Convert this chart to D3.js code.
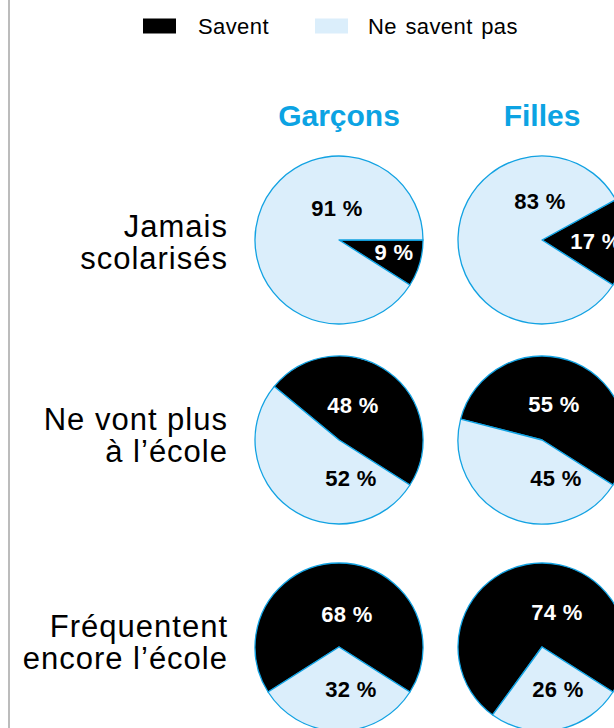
<!DOCTYPE html>
<html>
<head>
    <meta charset="utf-8">
    <title>Savent / Ne savent pas</title>
    <script src="https://d3js.org/d3.v7.min.js"></script>
    <style>
        body {
            margin: 0;
            background: #ffffff;
        }
        svg {
            display: block;
        }
        .row-label {
            font-family: "Liberation Sans", Arial, sans-serif;
            font-size: 31px;
            letter-spacing: 1px;
            fill: #000;
        }
        .group-title {
            font-family: "Liberation Sans", Arial, sans-serif;
            font-size: 30px;
            font-weight: bold;
            fill: #0ca3e3;
        }
        .pct {
            font-family: "Liberation Sans", Arial, sans-serif;
            font-size: 22px;
            font-weight: bold;
            letter-spacing: 0.3px;
        }
        .legend-text {
            font-family: "Liberation Sans", Arial, sans-serif;
            font-size: 22px;
            letter-spacing: 0.4px;
            word-spacing: 2px;
        }
    </style>
</head>
<body>
<div id="chart"></div>
<script>
    // values
    const rowLabels = [
        ["Jamais", "scolarisés"],
        ["Ne vont plus", "à l’école"],
        ["Fréquentent", "encore l’école"]
    ];
    const groups = ["Garçons", "Filles"];
    const legendLabels = ["Savent", "Ne savent pas"];

    const saventGarcons = [9, 48, 68];
    const neSaventGarcons = [91, 52, 32];
    const saventFilles = [17, 55, 74];
    const neSaventFilles = [83, 45, 26];

    const width = 614;
    const height = 728;
    const radius = 84;
    const colors = ["#000000", "#dbeefb"];
    const strokeBlue = "#12a2e2";

    // layout: pie centres per group / row
    const x = d3.scaleOrdinal().domain(groups).range([339, 542]);
    const y = d3.scaleOrdinal().domain([0, 1, 2]).range([240, 440, 647]);
    const labelY = [237, 430, 637];

    // where the percentage labels sit, relative to each pie centre
    // [row][group] -> [[dx, dy] for savent, [dx, dy] for ne savent pas]
    const labelOffsets = [
        [[[55, 20], [-2, -24]], [[54, 9], [-2, -31]]],
        [[[14, -27], [12, 46]], [[12, -28], [14, 46]]],
        [[[8, -25], [12, 50]], [[15, -27], [16, 50]]]
    ];

    // the black slice always ends at the same angle
    const blackEnd = 122.4 * Math.PI / 180;

    const svg = d3.select("#chart")
        .append("svg")
        .attr("width", width)
        .attr("height", height);

    // grey rule on the left
    svg.append("rect")
        .attr("x", 8)
        .attr("y", 0)
        .attr("width", 2)
        .attr("height", height)
        .attr("fill", "#bcbcbc");

    // legend
    const legendX = [143, 315];
    const legendTextX = [198, 368];
    legendLabels.forEach(function (label, i) {
        svg.append("rect")
            .attr("x", legendX[i])
            .attr("y", 18.5)
            .attr("width", 33)
            .attr("height", 15)
            .attr("fill", colors[i]);
        svg.append("text")
            .attr("class", "legend-text")
            .attr("x", legendTextX[i])
            .attr("y", 34)
            .text(label);
    });

    // group titles
    svg.selectAll(".group-title")
        .data(groups)
        .enter()
        .append("text")
        .attr("class", "group-title")
        .attr("x", d => x(d))
        .attr("y", 126)
        .attr("text-anchor", "middle")
        .text(d => d);

    // row labels
    rowLabels.forEach(function (lines, r) {
        const t = svg.append("text")
            .attr("class", "row-label")
            .attr("text-anchor", "end")
            .attr("y", labelY[r]);
        lines.forEach(function (line, k) {
            t.append("tspan")
                .attr("x", 228)
                .attr("dy", k === 0 ? 0 : 32)
                .text(line);
        });
    });

    const arc = d3.arc().innerRadius(0).outerRadius(radius);

    const series = {
        "Garçons": [saventGarcons, neSaventGarcons],
        "Filles": [saventFilles, neSaventFilles]
    };

    groups.forEach(function (g, gi) {
        rowLabels.forEach(function (_, r) {
            const values = [series[g][0][r], series[g][1][r]];
            const start = blackEnd - values[0] / 100 * 2 * Math.PI;
            const pie = d3.pie()
                .sort(null)
                .value(d => d)
                .startAngle(start)
                .endAngle(start + 2 * Math.PI);

            const cell = svg.append("g")
                .attr("transform", "translate(" + x(g) + "," + y(r) + ")");

            cell.selectAll("path")
                .data(pie(values))
                .enter()
                .append("path")
                .attr("d", arc)
                .attr("fill", (d, i) => colors[i])
                .attr("stroke", strokeBlue)
                .attr("stroke-width", 1.3)
                .attr("stroke-linejoin", "round");

            cell.selectAll("text")
                .data(values)
                .enter()
                .append("text")
                .attr("class", "pct")
                .attr("text-anchor", "middle")
                .attr("x", (d, i) => labelOffsets[r][gi][i][0])
                .attr("y", (d, i) => labelOffsets[r][gi][i][1])
                .attr("fill", (d, i) => i === 0 ? "#ffffff" : "#000000")
                .text(d => d + " %");
        });
    });
</script>
</body>
</html>
